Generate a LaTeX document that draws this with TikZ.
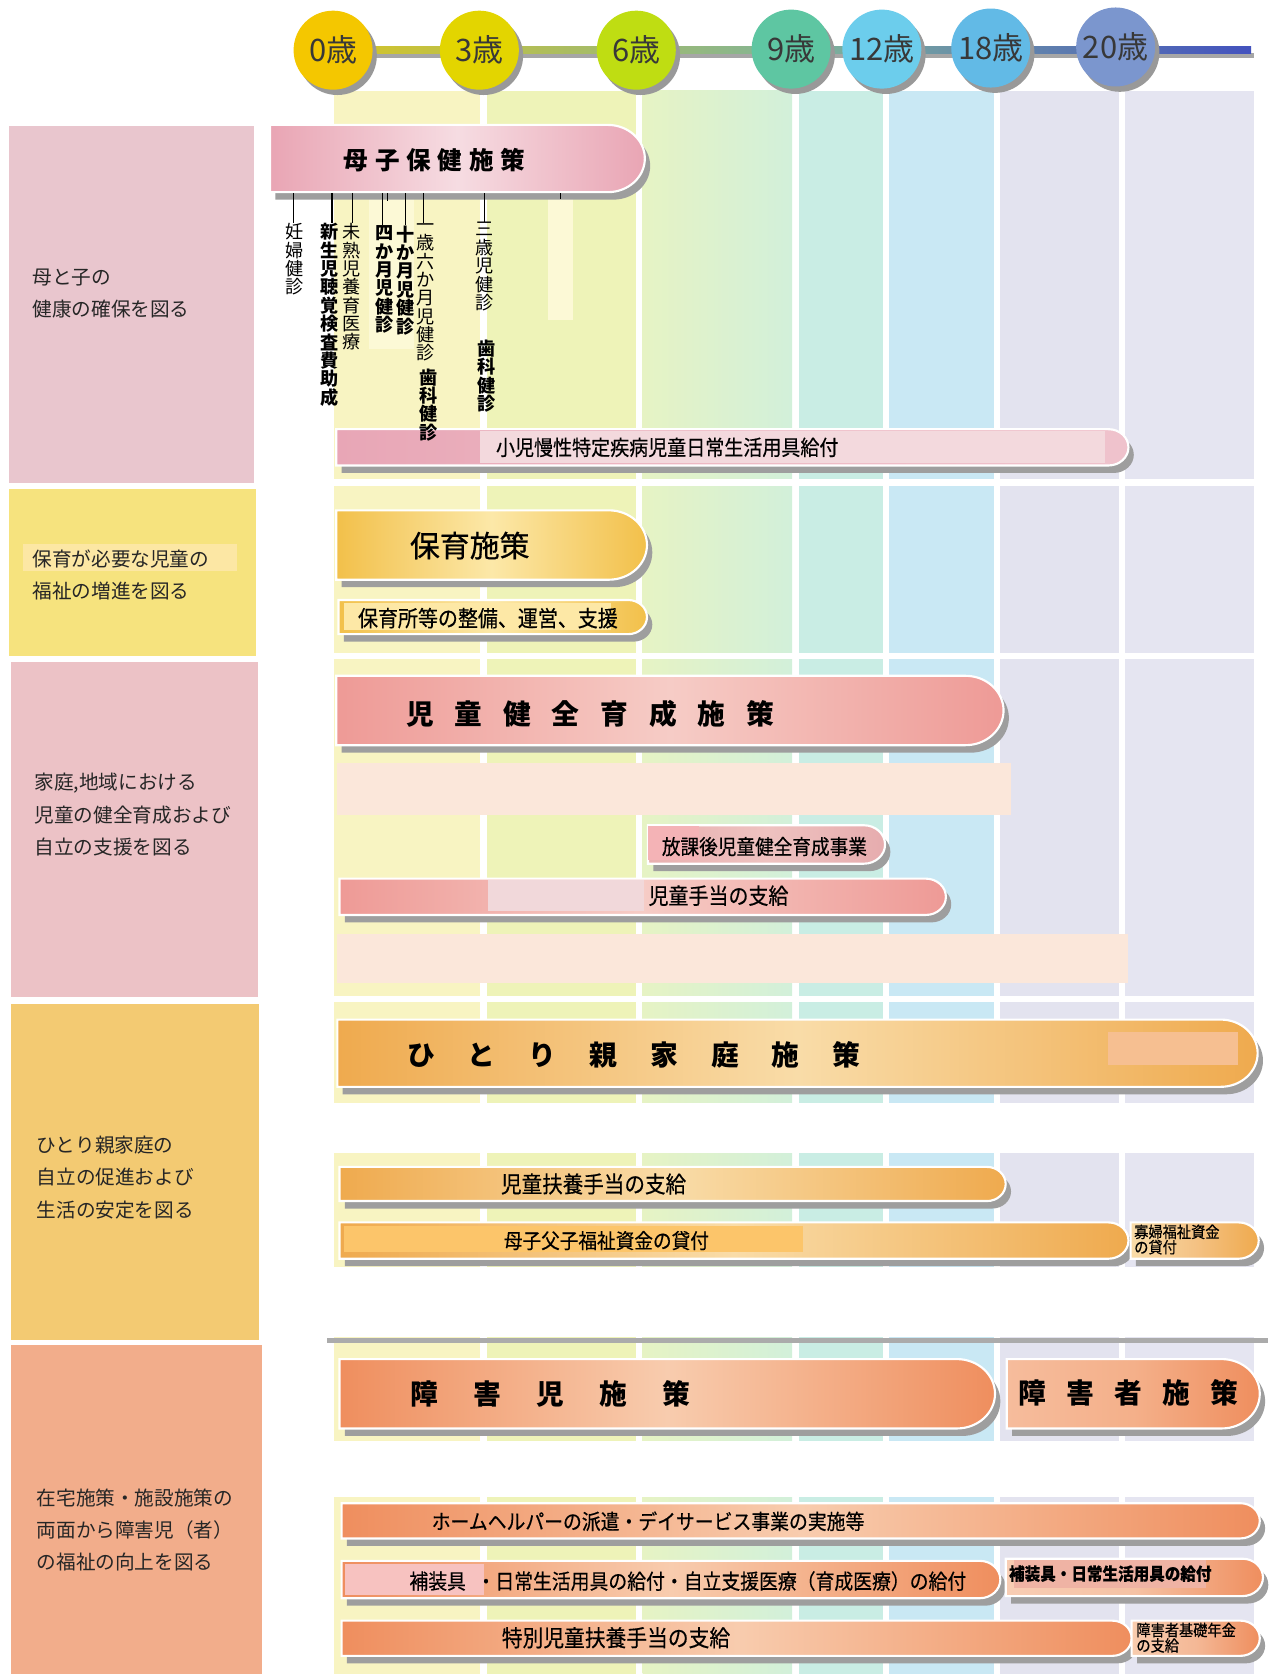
\documentclass[tikz,border=0pt]{standalone}
\usepackage{fontspec}
\setmainfont{Noto Sans CJK JP}
\newfontfamily\jpn[FakeStretch=0.9,FakeBold=0.4]{Noto Sans CJK JP}
\newfontfamily\jpm[FakeBold=0.6]{Noto Sans CJK JP}
\usetikzlibrary{shadows}
\definecolor{boxA}{HTML}{E9C6CE}
\definecolor{boxB}{HTML}{F6E37E}
\definecolor{boxBhl}{HTML}{FCE7A4}
\definecolor{boxC}{HTML}{ECC2C6}
\definecolor{boxD}{HTML}{F3CA72}
\definecolor{boxE}{HTML}{F2AD8B}
\definecolor{colA}{HTML}{F8F4C2}
\definecolor{colB}{HTML}{EEF3B8}
\definecolor{colCa}{HTML}{E6F3C4}
\definecolor{colCb}{HTML}{D2F0DA}
\definecolor{colD}{HTML}{C9EDE4}
\definecolor{colE}{HTML}{C9E8F4}
\definecolor{colF}{HTML}{E3E3EF}
\definecolor{colG}{HTML}{E5E5F1}
\definecolor{peach}{HTML}{FBE7DA}
\definecolor{shad}{HTML}{9E9E9E}
\definecolor{paleY}{HTML}{FCF9D6}
\definecolor{tlA}{HTML}{D2C42C}
\definecolor{tlB}{HTML}{80B49A}
\definecolor{tlC}{HTML}{4352BE}
\definecolor{ag0}{HTML}{F4C700}
\definecolor{ag3}{HTML}{E3D500}
\definecolor{ag6}{HTML}{BFDD12}
\definecolor{ag9}{HTML}{5EC6A2}
\definecolor{ag12}{HTML}{6CCDEC}
\definecolor{ag18}{HTML}{62BAE6}
\definecolor{ag20}{HTML}{7B96CE}
\definecolor{pkE}{HTML}{E9A5B4}
\definecolor{pkM}{HTML}{F6DCE2}
\definecolor{ylE}{HTML}{F2C04A}
\definecolor{ylM}{HTML}{FCE8A8}
\definecolor{slE}{HTML}{EE9A96}
\definecolor{slM}{HTML}{F6CCC6}
\definecolor{orE}{HTML}{EFAA4E}
\definecolor{orM}{HTML}{F9DCA8}
\definecolor{rdE}{HTML}{EF8E5E}
\definecolor{rdM}{HTML}{F8CCAE}
\definecolor{pkL}{HTML}{E8A6B6}
\definecolor{pkLm}{HTML}{EDBAC4}
\definecolor{pkLr}{HTML}{EFC2CC}
\definecolor{pkLx}{HTML}{F3D9DD}
\definecolor{ylHL}{HTML}{FDE8A6}
\definecolor{hkE}{HTML}{E8B0B0}
\definecolor{hkM}{HTML}{EEC2C0}
\definecolor{hkR}{HTML}{E6ACAE}
\definecolor{hkSq}{HTML}{F4B3B6}
\definecolor{jtX}{HTML}{F1D8DA}
\definecolor{orX}{HTML}{F6BF91}
\definecolor{orHL}{HTML}{FCC56A}
\definecolor{orS}{HTML}{F4C284}
\definecolor{rdL}{HTML}{F6BC9C}
\definecolor{rdS}{HTML}{F4B08A}
\definecolor{rdPk}{HTML}{F7C2C0}
\definecolor{rdL2}{HTML}{F8CDB4}
\definecolor{rdS2}{HTML}{F6C2A4}
\definecolor{rdHL}{HTML}{EFB3A4}
\definecolor{rdS3}{HTML}{F4B896}
\newcommand\pbar[7]{%
  \pgfmathsetmacro\pbry{(#4-#2)/2}%
  \pgfmathsetmacro\pbrx{\pbry*1.1}%
  \pgfmathsetmacro\pbxc{#3-\pbrx}%
  \fill[shad] (#1+5,#2+7) -- (\pbxc+5,#2+7) arc[start angle=-90,end angle=90,x radius=\pbrx,y radius=\pbry] -- (#1+5,#4+7) -- cycle;
  \shade[left color=#5,right color=#7,middle color=#6,draw=white,line width=1pt] (#1,#2) -- (\pbxc,#2) arc[start angle=-90,end angle=90,x radius=\pbrx,y radius=\pbry] -- (#1,#4) -- cycle;
}
\newcommand\ksp[1]{\hspace{#1em}}
\tikzset{
  lbl/.style={inner sep=0pt, font=\jpn\fontsize{#1}{#1}\selectfont},
  ttl/.style={inner sep=0pt, anchor=west, font=\fontsize{13pt}{15pt}\selectfont\bfseries},
  cat/.style={inner sep=0pt, anchor=west, align=left, text=black!85, font=\fontsize{9.2pt}{15pt}\selectfont},
  vtx/.style={inner sep=0pt, anchor=north, align=center, font=\fontsize{8.5pt}{8.6pt}\selectfont},
  vbd/.style={inner sep=0pt, anchor=north, align=center, font=\fontsize{8.5pt}{8.6pt}\selectfont\bfseries},
  small/.style={inner sep=0pt, anchor=west, align=left, font=\jpn\fontsize{7.4pt}{7.2pt}\selectfont},
  agecirc/.style={circle, minimum size=37pt, inner sep=0pt, text=black!78,
    font=\fontsize{14.5pt}{16pt}\selectfont,
    drop shadow={shadow xshift=2pt,shadow yshift=-2.5pt,fill=black!40,opacity=1}},
  tick/.style={line width=0.6pt, black},
}
\begin{document}
\begin{tikzpicture}[x=0.5pt,y=-0.5pt]
\useasboundingbox (0,0) rectangle (1188,1568);
\fill[white] (0,0) rectangle (1188,1568);
% background columns
\fill[colA] (313,85) rectangle (450,1568);
\fill[colB] (456,85) rectangle (596,1568);
\shade[left color=colCa,right color=colCb] (602,85) rectangle (742,1568);
\fill[colD] (748,85) rectangle (827,1568);
\fill[colE] (833,85) rectangle (931,1568);
\fill[colF] (937,85) rectangle (1048,1568);
\fill[colG] (1054,85) rectangle (1175,1568);
% horizontal white gaps
\fill[white] (300,449) rectangle (1180,455);
\fill[white] (300,612) rectangle (1180,617);
\fill[white] (300,933) rectangle (1180,939);
\fill[white] (300,1033) rectangle (1180,1080);
\fill[white] (300,1187) rectangle (1188,1252);
\fill[black!33] (306,1253) rectangle (1188,1258);
\fill[white] (300,1350) rectangle (1180,1402);
% timeline
\fill[black!35] (333,50) rectangle (1175,54);
\shade[left color=tlA,right color=tlC,middle color=tlB] (330,44) rectangle (1172,50);
\node[agecirc, fill=ag0] (a0) at (312,47) {0歳};
\node[agecirc, fill=ag3] (a3) at (449,47) {3歳};
\node[agecirc, fill=ag6] (a6) at (596,47) {6歳};
\node[agecirc, fill=ag9] (a9) at (741,46) {9歳};
\node[agecirc, fill=ag12] (a12) at (826,46) {12歳};
\node[agecirc, fill=ag18] (a18) at (928,45) {18歳};
\node[agecirc, fill=ag20] (a20) at (1045,44) {20歳};
% category boxes
\fill[boxA] (8,118) rectangle (238,452);
\fill[boxB] (8,458) rectangle (240,614);
\fill[boxBhl] (22,510) rectangle (222,535);
\fill[boxC] (10,620) rectangle (242,934);
\fill[boxD] (10,940) rectangle (243,1255);
\fill[boxE] (10,1260) rectangle (245,1568);
\node[cat] (cA) at (30,275) {母と子の\\健康の確保を図る};
\node[cat] (cB) at (30,539) {保育が必要な児童の\\福祉の増進を図る};
\node[cat] (cC) at (32,763) {家庭,地域における\\児童の健全育成および\\自立の支援を図る};
\node[cat] (cD) at (34,1103) {ひとり親家庭の\\自立の促進および\\生活の安定を図る};
\node[cat] (cE) at (34,1433) {在宅施策・施設施策の\\両面から障害児（者）\\の福祉の向上を図る};
% pale boxes
\fill[paleY] (346,186) rectangle (388,327);
\fill[paleY] (513,186) rectangle (537,300);
\fill[peach] (316,715) rectangle (947,763);
\fill[peach] (316,875) rectangle (1057,921);
% row 1
\pbar{253}{117}{604}{180}{pkE}{pkM}{pkE}
\node[inner sep=0pt, font=\fontsize{11.5pt}{13pt}\selectfont\bfseries] (t1) at (407,150) {母\ksp{.28}子\ksp{.28}保\ksp{.28}健\ksp{.28}施\ksp{.28}策};
\pbar{315}{402}{1057}{436}{pkL}{pkLm}{pkLr}
\fill[pkLx] (450,404) rectangle (1035,434);
\node[lbl=9.9pt] (t2) at (625,419) {小児慢性特定疾病児童日常生活用具給付};
% ticks and vertical labels
\coordinate (k1) at (275,181);
\coordinate (k2) at (311,181);
\coordinate (k3) at (330,181);
\coordinate (k4) at (358,181);
\coordinate (k4b) at (363,181);
\coordinate (k4c) at (363,188);
\coordinate (k5) at (380,181);
\coordinate (k6) at (397,181);
\coordinate (k8) at (454,181);
\coordinate (k9) at (525,181);
\coordinate (k9c) at (525,186);
\node[vtx] (v1) at (276,209) {妊\\婦\\健\\診};
\node[vbd] (v2) at (309,209) {新\\生\\児\\聴\\覚\\検\\査\\費\\助\\成};
\node[vtx] (v3) at (329,209) {未\\熟\\児\\養\\育\\医\\療};
\node[vbd] (v4) at (360,211) {四\\か\\月\\児\\健\\診};
\node[vbd] (v5) at (380,211) {十\\か\\月\\児\\健\\診};
\node[vtx] (v6) at (399,209) {一\\歳\\六\\か\\月\\児\\健\\診};
\node[vbd] (v7) at (401,345) {歯\\科\\健\\診};
\node[vtx] (v8) at (454,208) {三\\歳\\児\\健\\診};
\node[vbd] (v9) at (456,318) {歯\\科\\健\\診};
\draw[tick] (k1) -- (k1 |- v1.north);
\draw[tick] (k2) -- (k2 |- v2.north);
\draw[tick] (k3) -- (k3 |- v3.north);
\draw[tick] (k4) -- (k4 |- v4.north);
\draw[tick] (k4b) -- (k4c);
\draw[tick] (k5) -- (k5 |- v5.north);
\draw[tick] (k6) -- (k6 |- v6.north);
\draw[tick] (k8) -- (k8 |- v8.north);
\draw[tick] (k9) -- (k9c);
% row 2
\pbar{315}{478}{606}{543}{ylE}{ylM}{ylE}
\node[inner sep=0pt, font=\jpm\fontsize{14pt}{16pt}\selectfont] (t3) at (440,511) {保育施策};
\pbar{317}{562}{606}{594}{ylE}{ylM}{ylE}
\fill[ylHL] (322,565) rectangle (572,590);
\node[lbl=10.4pt] (t4) at (457,579) {保育所等の整備、運営、支援};
% row 3
\pbar{315}{633}{940}{698}{slE}{slM}{slE}
\node[ttl] (t5) at (380,669) {児\ksp{.75}童\ksp{.75}健\ksp{.75}全\ksp{.75}育\ksp{.75}成\ksp{.75}施\ksp{.75}策};
\pbar{607}{773}{829}{809}{hkE}{hkM}{hkR}
\fill[hkSq] (607,774) rectangle (655,806);
\node[lbl=9.7pt] (t6) at (716,793) {放課後児童健全育成事業};
\pbar{318}{823}{886}{857}{slE}{slM}{slE}
\fill[jtX] (457,824) rectangle (603,853);
\node[lbl=10.4pt] (t7) at (673,839) {児童手当の支給};
% row 4
\pbar{316}{955}{1178}{1018}{orE}{orM}{orE}
\fill[orX] (1038,967) rectangle (1160,998);
\node[ttl] (t8) at (381,988) {ひ\ksp{1.19}と\ksp{1.19}り\ksp{1.19}親\ksp{1.19}家\ksp{1.19}庭\ksp{1.19}施\ksp{1.19}策};
\pbar{318}{1093}{942}{1125}{orE}{orM}{orE}
\node[lbl=10.7pt] (t9) at (556,1109) {児童扶養手当の支給};
\pbar{318}{1145}{1057}{1179}{orE}{orM}{orE}
\fill[orHL] (322,1148) rectangle (752,1173);
\node[lbl=9.7pt] (t10) at (568,1162) {母子父子福祉資金の貸付};
\pbar{1059}{1145}{1179}{1179}{orM}{orS}{orE}
\node[small] (t11) at (1062,1161) {寡婦福祉資金\\の貸付};
% row 5
\pbar{318}{1273}{932}{1338}{rdE}{rdM}{rdE}
\node[ttl] (t12) at (384,1306) {障\ksp{1.27}害\ksp{1.27}児\ksp{1.27}施\ksp{1.27}策};
\pbar{943}{1273}{1180}{1338}{rdL}{rdS}{rdE}
\node[ttl] (t13) at (954,1305) {障\ksp{.73}害\ksp{.73}者\ksp{.73}施\ksp{.73}策};
\pbar{320}{1408}{1180}{1441}{rdE}{rdM}{rdE}
\node[lbl=9.8pt] (t14) at (607,1425) {ホームヘルパーの派遣・デイサービス事業の実施等};
\pbar{320}{1462}{937}{1497}{rdE}{rdM}{rdE}
\fill[rdPk] (323,1465) rectangle (453,1494);
\node[lbl=9.8pt] (t15) at (410,1481) {補装具};
\node[lbl=9.8pt, anchor=west] (t16) at (446,1481) {・日常生活用具の給付・自立支援医療（育成医療）の給付};
\pbar{942}{1460}{1183}{1495}{rdL2}{rdS2}{rdE}
\fill[rdHL] (950,1461) rectangle (1130,1487);
\node[inner sep=0pt, font=\jpn\bfseries\fontsize{8.1pt}{9pt}\selectfont] (t17) at (1040,1474) {補装具・日常生活用具の給付};
\pbar{320}{1518}{1060}{1551}{rdE}{rdM}{rdE}
\node[lbl=10.8pt] (t18) at (577,1534) {特別児童扶養手当の支給};
\pbar{1060}{1518}{1180}{1551}{rdM}{rdS3}{rdE}
\node[small] (t19) at (1064,1534) {障害者基礎年金\\の支給};
\end{tikzpicture}
\end{document}
